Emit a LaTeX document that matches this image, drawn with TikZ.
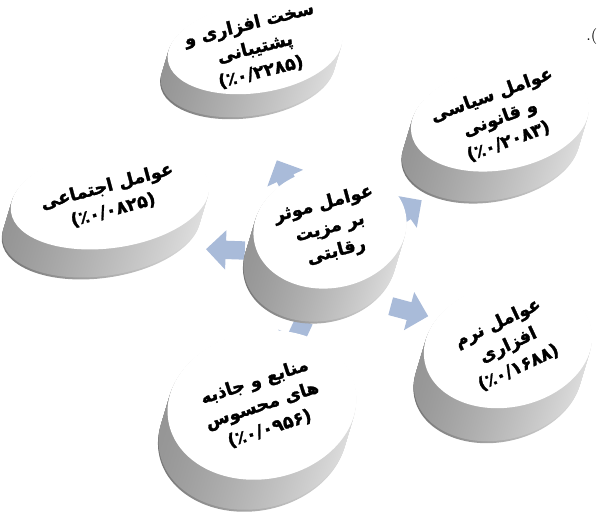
\documentclass[tikz,border=0pt]{standalone}
\usepackage{fontspec}
\usetikzlibrary{shapes.arrows}
\TeXXeTstate=1
\newfontfamily\farsi[Script=Arabic, BoldFeatures={FakeBold=1.5}]{DejaVu Sans}
\definecolor{flowblue}{HTML}{A9BBD9}
\pgfdeclareradialshading{pillface}{\pgfpoint{0bp}{0bp}}{color(0bp)=(white); color(28bp)=(white); color(40bp)=(black!5); color(46bp)=(black!14); color(50bp)=(black!30)}
\tikzset{
  flow/.style={single arrow, fill=flowblue, draw=none, inner xsep=0pt,
    inner ysep=5pt, minimum height=22pt, single arrow head extend=6pt},
  lbl/.style={font=\farsi\bfseries\fontsize{10}{14}\selectfont, align=center,
    text=black, inner sep=1pt}
}
% name, x, y, rx, ry, tilt, depth, text angle, text
\newcommand{\pill}[9]{%
  \foreach \k in {1,...,#7}{
    \pgfmathsetmacro\dd{#7+1-\k}
    \pgfmathsetmacro\sh{ifthenelse(\k<3,55,42)}
    \shade[left color=black!\sh, right color=black!12,
      rotate around={#6:(#2-0.3*\dd,#3+\dd)}]
      (#2-0.3*\dd,#3+\dd) ellipse [x radius=#4, y radius=#5];
  }
  \shade[shading=pillface, rotate around={#6:(#2,#3)}]
    (#2,#3) ellipse [x radius=#4, y radius=#5];
  \node[lbl, rotate=#8] (#1) at (#2,#3) {#9};
}

\begin{document}
\begin{tikzpicture}[x=0.567pt, y=-0.567pt]
  \useasboundingbox (0,0) rectangle (599,511);

  % arrows (behind the discs)
  \node[flow, rotate=178] (aleft) at (230,250) {};
  \node[flow, rotate=115] (atop) at (287,182) {};
  \node[flow, rotate=35] (aright) at (402,214) {};
  \node[flow, rotate=-15] (alow) at (405,310) {};
  \node[flow, rotate=-115] (abottom) at (298,334) {};

  % discs
  \pill{hw}{255}{48}{88}{45}{8}{25}{14}{\beginR سخت افزاری و\endR\\\beginR پشتیبانی\endR\\\beginL(٪۰/۲۲۸۵)\endL}
  \pill{pol}{500}{118}{90}{52}{10}{32}{20}{\beginR عوامل سیاسی\endR\\\beginR و قانونی\endR\\\beginL(٪۰/۲۰۸۳)\endL}
  \pill{soc}{110}{198}{100}{50}{8}{30}{15}{\beginR عوامل اجتماعی\endR\\\beginL(٪۰/۰۸۲۵)\endL}
  \pill{hub}{330}{228}{77}{60}{10}{35}{15}{\beginR عوامل موثر\endR\\\beginR بر مزیت\endR\\\beginR رقابتی\endR}
  \pill{sw}{508}{345}{85}{62}{12}{35}{25}{\beginR عوامل نرم\endR\\\beginR افزاری\endR\\\beginL(٪۰/۱۶۸۸)\endL}
  \pill{res}{262}{405}{95}{74}{10}{32}{18}{\beginR منابع و جاذبه\endR\\\beginR های محسوس\endR\\\beginL(٪۰/۰۹۵۶)\endL}

  \node[font=\small, inner sep=0pt, anchor=west] (mark) at (586,37) {.(};
\end{tikzpicture}
\end{document}
